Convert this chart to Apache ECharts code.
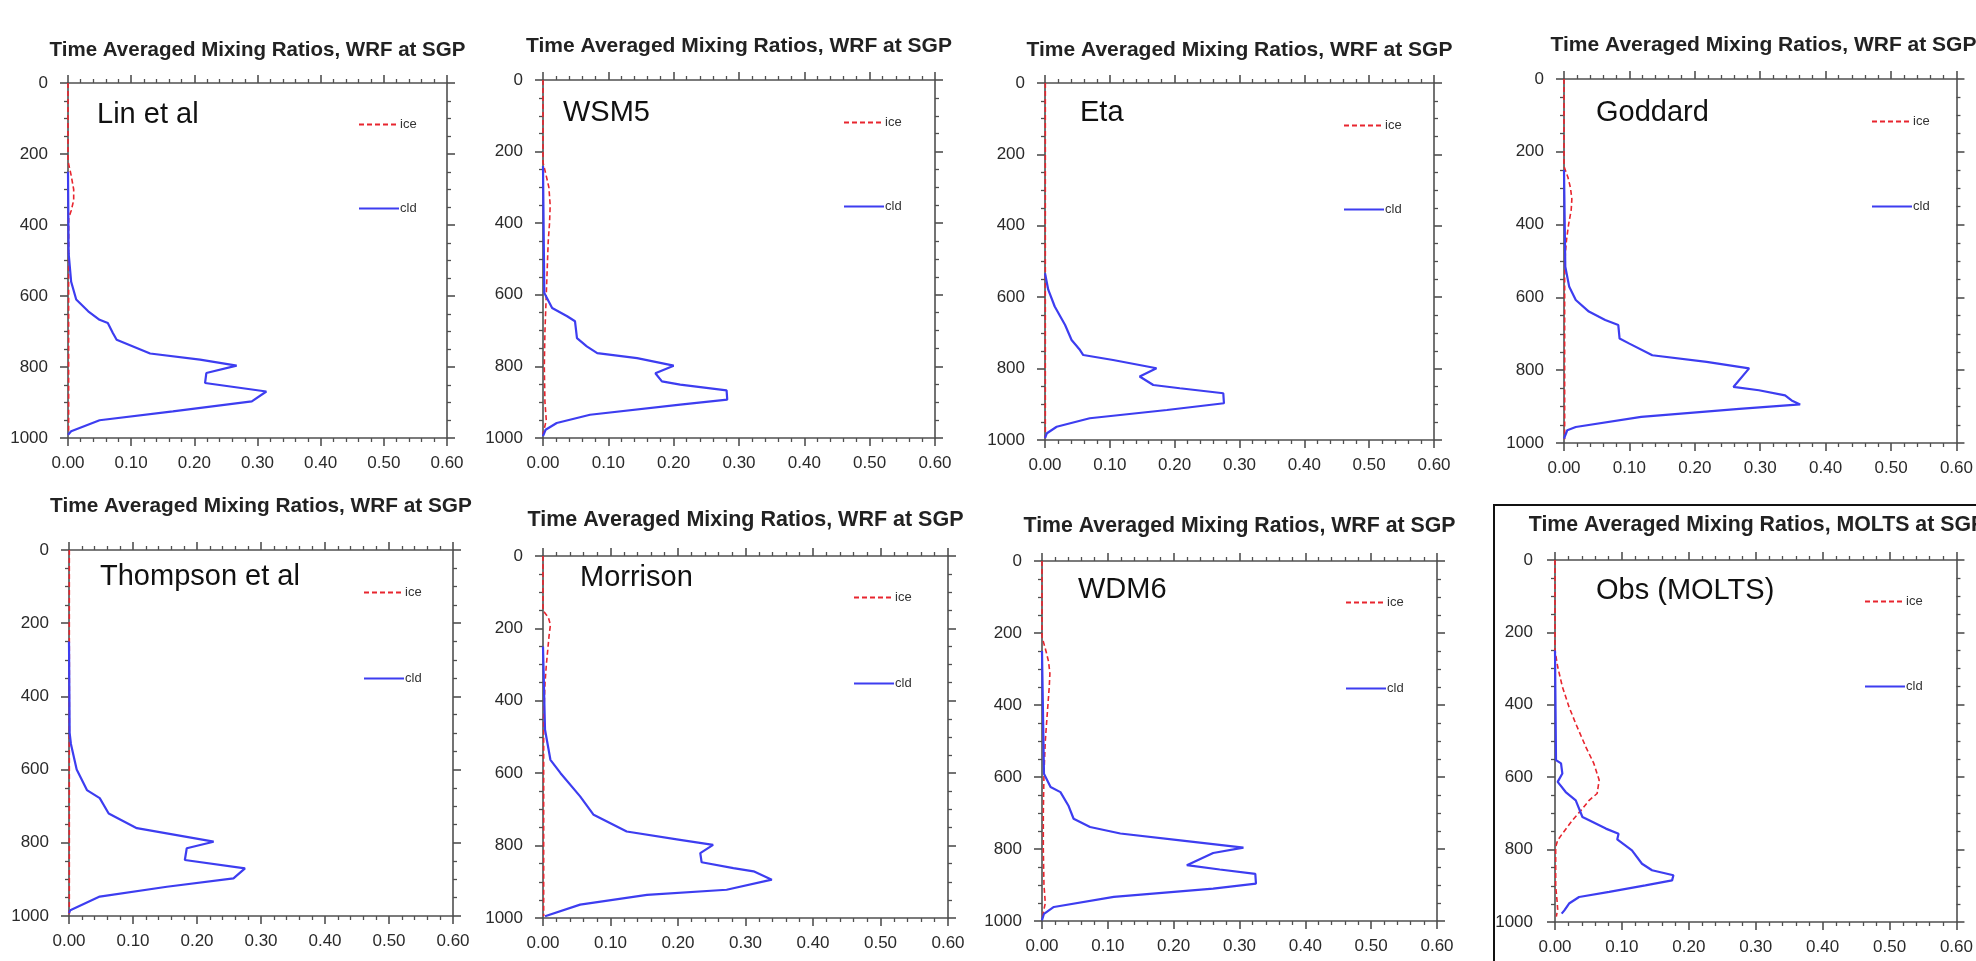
<!DOCTYPE html>
<html>
<head>
<meta charset="utf-8">
<script src="https://cdn.jsdelivr.net/npm/echarts@6/dist/echarts.min.js"></script>
<style>
html,body{margin:0;padding:0;background:#fff;}
#c{width:1976px;height:961px;}
</style>
</head>
<body>
<div id="c"></div>
<script>
// ---------- data ----------
const schemes = ['Lin et al', 'WSM5', 'Eta', 'Goddard', 'Thompson et al', 'Morrison', 'WDM6', 'Obs (MOLTS)'];
const titles = [
  'Time Averaged Mixing Ratios, WRF at SGP', 'Time Averaged Mixing Ratios, WRF at SGP',
  'Time Averaged Mixing Ratios, WRF at SGP', 'Time Averaged Mixing Ratios, WRF at SGP',
  'Time Averaged Mixing Ratios, WRF at SGP', 'Time Averaged Mixing Ratios, WRF at SGP',
  'Time Averaged Mixing Ratios, WRF at SGP', 'Time Averaged Mixing Ratios, MOLTS at SGP'
];
const seriesNames = ['ice', 'cld'];
const xTickValues = [0, 0.1, 0.2, 0.3, 0.4, 0.5, 0.6];
const yTickValues = [0, 200, 400, 600, 800, 1000];

// Lin et al
const linCldP = [250, 480, 560, 610, 643, 667, 676, 704, 723, 762, 779, 796, 817, 845, 869, 897, 925, 950, 981, 991];
const linCld  = [0, 0.001, 0.005, 0.013, 0.032, 0.05, 0.063, 0.071, 0.077, 0.13, 0.209, 0.267, 0.219, 0.217, 0.314, 0.291, 0.166, 0.05, 0.005, 0];
const linIceP = [0, 220, 260, 300, 330, 360, 380, 500, 700, 900, 990];
const linIce  = [0, 0, 0.005, 0.009, 0.009, 0.005, 0.001, 0.001, 0.001, 0.001, 0.001];

// WSM5
const wsm5CldP = [240, 595, 637, 660, 674, 721, 744, 763, 777, 798, 819, 842, 851, 867, 893, 907, 935, 958, 977, 995];
const wsm5Cld  = [0, 0.002, 0.014, 0.037, 0.049, 0.052, 0.067, 0.083, 0.144, 0.2, 0.172, 0.182, 0.21, 0.281, 0.282, 0.21, 0.072, 0.021, 0.004, 0];
const wsm5IceP = [0, 230, 260, 300, 350, 400, 450, 500, 550, 600, 650, 700, 800, 900, 950, 990];
const wsm5Ice  = [0, 0, 0.004, 0.009, 0.011, 0.01, 0.008, 0.007, 0.006, 0.005, 0.004, 0.003, 0.002, 0.003, 0.005, 0];

// Eta
const etaCldP = [533, 579, 626, 678, 720, 748, 762, 776, 799, 822, 846, 855, 869, 897, 916, 939, 963, 981, 995];
const etaCld  = [0, 0.005, 0.015, 0.031, 0.041, 0.054, 0.059, 0.105, 0.172, 0.146, 0.167, 0.208, 0.275, 0.276, 0.188, 0.069, 0.018, 0.003, 0];
const etaIceP = [0, 300, 600, 900, 995];
const etaIce  = [0.0005, 0.0005, 0.0005, 0.0005, 0.0005];

// Goddard
const godCldP = [250, 516, 571, 607, 639, 662, 676, 713, 727, 759, 777, 795, 846, 855, 869, 883, 894, 906, 928, 956, 965, 988];
const godCld  = [0, 0.002, 0.008, 0.018, 0.038, 0.063, 0.083, 0.085, 0.1, 0.135, 0.218, 0.283, 0.259, 0.298, 0.338, 0.348, 0.361, 0.268, 0.118, 0.018, 0.005, 0];
const godIceP = [0, 240, 270, 300, 330, 360, 400, 440, 480, 550, 990];
const godIce  = [0, 0, 0.006, 0.01, 0.012, 0.011, 0.007, 0.004, 0.002, 0.001, 0.001];

// Thompson et al
const thoCldP = [250, 500, 530, 600, 656, 678, 720, 760, 797, 815, 847, 870, 897, 920, 947, 984, 992];
const thoCld  = [0, 0.001, 0.003, 0.012, 0.028, 0.048, 0.062, 0.106, 0.226, 0.184, 0.181, 0.275, 0.257, 0.153, 0.048, 0.002, 0];
const thoIceP = [0, 300, 600, 900, 995];
const thoIce  = [0.0005, 0.0005, 0.0005, 0.0005, 0.0005];

// Morrison
const morCldP = [250, 480, 563, 600, 664, 715, 761, 784, 798, 821, 846, 862, 871, 894, 922, 936, 963, 995];
const morCld  = [0, 0.003, 0.011, 0.026, 0.055, 0.075, 0.124, 0.203, 0.252, 0.233, 0.235, 0.282, 0.312, 0.339, 0.272, 0.154, 0.055, 0.003];
const morIceP = [0, 150, 170, 190, 220, 260, 300, 350, 400, 450, 500, 995];
const morIce  = [0, 0, 0.008, 0.011, 0.009, 0.007, 0.005, 0.003, 0.002, 0.001, 0.001, 0.001];

// WDM6
const wdmCldP = [250, 591, 628, 642, 679, 716, 739, 757, 776, 796, 811, 845, 857, 869, 896, 910, 933, 961, 980, 998];
const wdmCld  = [0, 0.003, 0.013, 0.028, 0.04, 0.048, 0.073, 0.119, 0.21, 0.306, 0.26, 0.22, 0.27, 0.324, 0.325, 0.26, 0.109, 0.018, 0.003, 0];
const wdmIceP = [0, 210, 250, 280, 313, 350, 424, 500, 591, 700, 800, 900, 950, 995];
const wdmIce  = [0, 0, 0.006, 0.01, 0.012, 0.011, 0.008, 0.005, 0.003, 0.002, 0.002, 0.003, 0.005, 0];

// Obs (MOLTS)
const obsCldP = [250, 553, 562, 590, 613, 641, 664, 710, 719, 742, 756, 772, 802, 839, 857, 871, 885, 899, 917, 931, 949, 968, 977];
const obsCld  = [0, 0.0015, 0.009, 0.011, 0.004, 0.016, 0.031, 0.041, 0.051, 0.076, 0.095, 0.093, 0.115, 0.13, 0.145, 0.177, 0.175, 0.135, 0.081, 0.036, 0.021, 0.014, 0.01];
const obsIceP = [0, 250, 295, 350, 406, 452, 516, 562, 608, 645, 664, 687, 719, 756, 774, 793, 900, 940, 965, 985];
const obsIce  = [0, 0, 0.004, 0.011, 0.021, 0.031, 0.046, 0.058, 0.066, 0.063, 0.051, 0.041, 0.026, 0.011, 0.004, 0.001, 0.001, 0.003, 0.004, 0.002];

const cldP = [linCldP, wsm5CldP, etaCldP, godCldP, thoCldP, morCldP, wdmCldP, obsCldP];
const cldV = [linCld, wsm5Cld, etaCld, godCld, thoCld, morCld, wdmCld, obsCld];
const iceP = [linIceP, wsm5IceP, etaIceP, godIceP, thoIceP, morIceP, wdmIceP, obsIceP];
const iceV = [linIce, wsm5Ice, etaIce, godIce, thoIce, morIce, wdmIce, obsIce];

// ---------- layout (pixels) ----------
const boxes = [ // left, top, width, height
  [68, 83, 379, 355], [543, 80, 392, 358], [1045, 83, 389, 357], [1564, 79, 399, 364],
  [69, 550, 384, 366], [543, 556, 405, 362], [1042, 561, 395, 360], [1555, 560, 404, 362]
];
const titleY = [52, 48, 52, 47, 508, 522, 528, 527];
const titleSize = [20.5, 21, 21, 21, 20.8, 21.5, 21.3, 21.3];
const annPos = [[97, 117], [563, 115], [1080, 115], [1596, 115], [100, 579], [580, 580], [1078, 592], [1596, 593]];
const legPos = [[358, 125, 210], [843, 123, 208], [1343, 126, 211], [1871, 122, 208],
                [363, 593, 680], [853, 598, 685], [1345, 603, 690], [1864, 602, 688]];

const FONT = '"Liberation Sans", Arial, Helvetica, sans-serif';
const AX = '#505050';

const grid = [], xAxis = [], yAxis = [], series = [], title = [], legend = [], graphic = [];

boxes.forEach((b, i) => {
  grid.push({left: b[0], top: b[1], width: b[2], height: b[3], containLabel: false});
  const tickX = {
    type: 'value', gridIndex: i, min: xTickValues[0], max: xTickValues[xTickValues.length - 1],
    interval: xTickValues[1] - xTickValues[0],
    axisLine: {show: true, onZero: false, lineStyle: {color: AX, width: 1.6}},
    axisTick: {show: true, inside: false, length: 8, lineStyle: {color: AX, width: 1.6}},
    minorTick: {show: true, splitNumber: 5, length: 4, lineStyle: {color: AX, width: 1.3}},
    splitLine: {show: false}, minorSplitLine: {show: false}
  };
  xAxis.push(Object.assign({}, tickX, {position: 'bottom',
    axisLabel: {show: true, margin: 17, color: '#2a2a2a', fontSize: 17, fontFamily: FONT,
      formatter: v => v.toFixed(2)}}));
  xAxis.push(Object.assign({}, tickX, {position: 'top', axisLabel: {show: false}}));
  const tickY = {
    type: 'value', gridIndex: i, inverse: true, min: yTickValues[0], max: yTickValues[yTickValues.length - 1],
    interval: yTickValues[1] - yTickValues[0],
    axisLine: {show: true, onZero: false, lineStyle: {color: AX, width: 1.6}},
    axisTick: {show: true, inside: false, length: 8, lineStyle: {color: AX, width: 1.6}},
    minorTick: {show: true, splitNumber: 4, length: 4, lineStyle: {color: AX, width: 1.3}},
    splitLine: {show: false}, minorSplitLine: {show: false}
  };
  yAxis.push(Object.assign({}, tickY, {position: 'left',
    axisLabel: {show: true, margin: i === 7 ? 22 : 20, color: '#2a2a2a', fontSize: 17, fontFamily: FONT,
      formatter: v => String(Math.round(v))}}));
  yAxis.push(Object.assign({}, tickY, {position: 'right', axisLabel: {show: false}}));

  series.push({
    name: seriesNames[0], type: 'line', xAxisIndex: 2 * i, yAxisIndex: 2 * i,
    data: iceP[i].map((p, k) => [iceV[i][k], p]),
    symbol: 'none', showSymbol: false, animation: false, z: 3,
    lineStyle: {color: '#e8252e', width: 1.6, type: [5, 3]}, itemStyle: {color: '#e8252e'}
  });
  series.push({
    name: seriesNames[1], type: 'line', xAxisIndex: 2 * i, yAxisIndex: 2 * i,
    data: cldP[i].map((p, k) => [cldV[i][k], p]),
    symbol: 'none', showSymbol: false, animation: false, z: 4,
    lineStyle: {color: '#3d3df0', width: 2.2}, itemStyle: {color: '#3d3df0'}
  });

  title.push({
    text: titles[i], left: b[0] + b[2] / 2, top: titleY[i] - titleSize[i] * 0.6, textAlign: 'center', padding: 0,
    textStyle: {fontFamily: FONT, fontWeight: 'bold', fontSize: titleSize[i], color: '#222'}
  });

  graphic.push({
    type: 'text', left: annPos[i][0], top: annPos[i][1] - 17, z: 10,
    style: {text: schemes[i], font: '29px ' + FONT, fill: '#111'}
  });

  const L = legPos[i];
  legend.push({
    left: L[0], top: L[1] - 7, orient: 'vertical', itemWidth: 40, itemHeight: 14,
    itemGap: L[2] - L[1] - 14, padding: 0, selectedMode: false, data: seriesNames,
    itemStyle: {opacity: 0, borderWidth: 0},
    textStyle: {fontSize: 13, color: '#333', fontFamily: FONT, padding: [0, 0, 0, -4]}
  });
});

graphic.push({type: 'rect', z: 20, shape: {x: 1494, y: 505, width: 600, height: 600},
  style: {fill: 'none', stroke: '#111', lineWidth: 2}});

const chart = echarts.init(document.getElementById('c'), null, {renderer: 'canvas'});
chart.setOption({
  backgroundColor: '#fff', animation: false,
  textStyle: {fontFamily: FONT},
  title, grid, xAxis, yAxis, series, legend, graphic
});
</script>
</body>
</html>
